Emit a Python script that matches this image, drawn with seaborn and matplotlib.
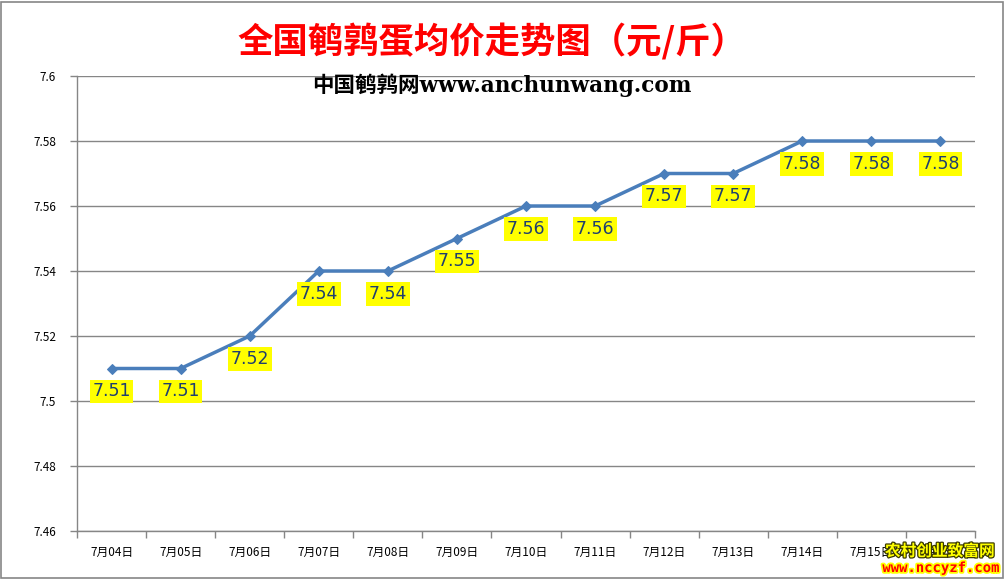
import matplotlib
matplotlib.use("Agg")
import matplotlib.pyplot as plt
import matplotlib.patheffects as pe
from matplotlib.ticker import FixedLocator, FuncFormatter
import seaborn as sns
import pandas as pd

dates = ["7月04日", "7月05日", "7月06日", "7月07日", "7月08日", "7月09日", "7月10日",
         "7月11日", "7月12日", "7月13日", "7月14日", "7月15日", "7月16日"]
prices = [7.51, 7.51, 7.52, 7.54, 7.54, 7.55, 7.56, 7.56, 7.57, 7.57, 7.58, 7.58, 7.58]
yticks = [7.46, 7.48, 7.50, 7.52, 7.54, 7.56, 7.58, 7.60]

df = pd.DataFrame({"date": dates, "price": prices, "x": range(len(dates))})

sns.set_theme(style="white")
plt.rcParams["font.family"] = ["Noto Sans CJK SC", "DejaVu Sans"]

fig = plt.figure(figsize=(10.05, 5.79), dpi=100)
ax = fig.add_axes([77 / 1005, 1 - 531 / 579, (975 - 77) / 1005, (531 - 76) / 579])

line_color = "#4A7EBB"
sns.lineplot(data=df, x="x", y="price", ax=ax, color=line_color, linewidth=2.5,
             marker="D", markersize=5.5, markeredgecolor=line_color, zorder=3)

ax.set_xlim(-0.5, len(dates) - 0.5)
ax.set_ylim(yticks[0], yticks[-1])
ax.yaxis.set_major_locator(FixedLocator(yticks))
ax.yaxis.set_major_formatter(FuncFormatter(lambda v, p: f"{v:.2f}".rstrip("0").rstrip(".")))
ax.set_xticks(range(len(dates)))
ax.set_xticklabels(dates)
ax.xaxis.set_minor_locator(FixedLocator([i - 0.5 for i in range(len(dates) + 1)]))
ax.tick_params(axis="x", which="major", length=0, pad=11, labelsize=8.5, labelcolor="#000000")
ax.tick_params(axis="x", which="minor", length=5, width=1, color="#868686", direction="out", bottom=True)
ax.tick_params(axis="y", length=5, width=1, color="#868686", direction="out", left=True,
               labelsize=8.5, labelcolor="#000000", pad=10)
ax.grid(axis="y", color="#868686", linewidth=1)
ax.set_axisbelow(True)
for s in ["top", "right"]:
    ax.spines[s].set_visible(False)
for s in ["left", "bottom"]:
    ax.spines[s].set_color("#868686")
    ax.spines[s].set_linewidth(1)
ax.set_xlabel("")
ax.set_ylabel("")

for xi, yi in zip(df["x"], df["price"]):
    ax.annotate(f"{yi:.2f}", (xi, yi), xytext=(0, -16.5), textcoords="offset points",
                ha="center", va="center", fontsize=12.5, color="#1F3F6F",
                family=["DejaVu Sans"],
                bbox=dict(boxstyle="square,pad=0.15", facecolor="#FFFF00", edgecolor="none"),
                zorder=4)

fig.text(492 / 1005, 1 - 42 / 579, "全国鹌鹑蛋均价走势图（元/斤）", ha="center", va="center",
         fontsize=25.5, fontweight="bold", color="#FF0000")
fig.text(502 / 1005, 1 - 85 / 579, "中国鹌鹑网www.anchunwang.com", ha="center", va="center",
         fontsize=15.5, fontweight="bold", color="#000000",
         family=["DejaVu Serif", "Noto Sans CJK SC"])

fig.text(940 / 1005, 1 - 551 / 579, "农村创业致富网", ha="center", va="center",
         fontsize=11.3, fontweight="bold", color="#FFFF00",
         path_effects=[pe.withStroke(linewidth=1.8, foreground="#3A3A00")])
fig.text(941 / 1005, 1 - 568 / 579, "www.nccyzf.com", ha="center", va="center",
         fontsize=10, fontweight="bold", color="#FF0000", family=["DejaVu Sans Mono"],
         path_effects=[pe.withStroke(linewidth=2.5, foreground="#FFFF00")])

border = plt.Rectangle((0.001, 0.002), 0.997, 0.995, transform=fig.transFigure,
                       fill=False, edgecolor="#868686", linewidth=1.2)
fig.add_artist(border)

fig.savefig("out.png", dpi=100)
